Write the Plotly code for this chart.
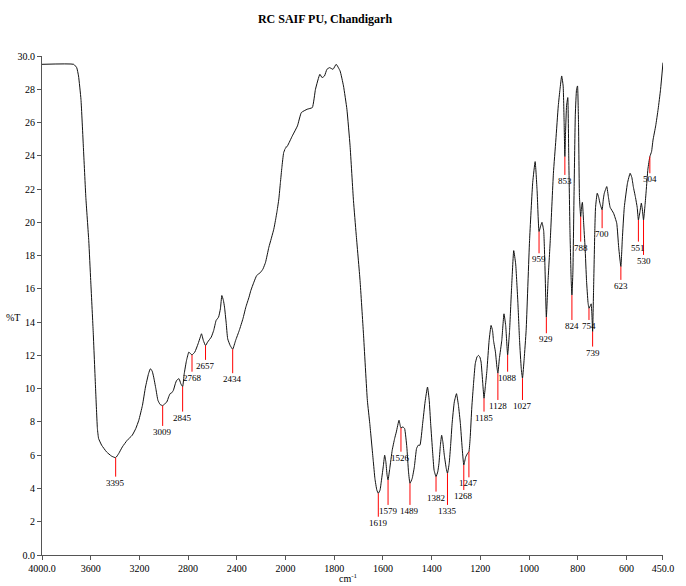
import plotly.graph_objects as go

# FTIR spectrum: wavenumber (cm-1) vs transmittance (%T)
wavenumber = [
    4000, 3740, 3715, 3700, 3680, 3660, 3640, 3616, 3600, 3580, 3560, 3545, 3535,
    3510, 3470, 3430, 3395, 3370, 3340, 3300, 3259, 3230, 3205, 3175, 3150, 3125,
    3110, 3095, 3083, 3065, 3048, 3030, 3009, 2990, 2975, 2960, 2948, 2935, 2921,
    2905, 2894, 2875, 2860, 2845, 2832, 2813, 2794, 2780, 2768, 2745, 2718, 2700,
    2690, 2675, 2657, 2640, 2610, 2590, 2570, 2550, 2535, 2523, 2510, 2501, 2488,
    2475, 2455, 2434, 2410, 2380, 2350, 2326, 2300, 2285, 2260, 2237, 2204, 2185,
    2164, 2137, 2118, 2096, 2083, 2069, 2055, 2042, 2030, 2015, 1992, 1972, 1951,
    1935, 1911, 1890, 1877, 1859, 1850, 1840, 1830, 1819, 1805, 1792, 1776, 1762,
    1748, 1735, 1721, 1710, 1694, 1680, 1664, 1654, 1640, 1633, 1625, 1619, 1612,
    1606, 1598, 1593, 1588, 1583, 1579, 1572, 1562, 1552, 1545, 1534, 1528, 1526,
    1518, 1511, 1502, 1495, 1489, 1480, 1471, 1462, 1455, 1448, 1437, 1427, 1417,
    1410, 1404, 1396, 1390, 1382, 1375, 1370, 1364, 1359, 1354, 1348, 1340, 1335,
    1328, 1322, 1316, 1307, 1298, 1290, 1282, 1275, 1268, 1260, 1253, 1247, 1242,
    1235, 1228, 1221, 1214, 1208, 1202, 1197, 1190, 1185, 1179, 1173, 1164, 1156,
    1150, 1146, 1138, 1132, 1128, 1122, 1112, 1103, 1096, 1088, 1080, 1072, 1063,
    1055, 1046, 1039, 1032, 1027, 1020, 1012, 998, 985, 975, 967, 959, 952, 947,
    940, 935, 929, 922, 913, 900, 890, 880, 873, 866, 860, 856, 853, 850, 846, 841,
    837, 832, 827, 824, 820, 815, 810, 805, 801, 797, 793, 788, 784, 781, 776, 770,
    764, 758, 754, 748, 745, 742, 739, 735, 730, 727, 720, 714, 709, 700, 695, 691,
    681, 674, 667, 653, 640, 632, 623, 617, 609, 596, 585, 578, 572, 563, 556, 551,
    545, 539, 535, 530, 524, 519, 512, 504, 497, 491, 480, 470, 460, 450,
]
transmittance = [
    29.5, 29.5, 29.3, 28.8, 27.4, 24.5, 21.5, 18.9, 16.5, 13.5, 10.0, 7.6, 7.0,
    6.6, 6.2, 5.95, 5.85, 6.1, 6.5, 6.9, 7.2, 7.6, 8.1, 9.0, 10.1, 10.9,
    11.2, 11.05, 10.7, 10.0, 9.3, 9.05, 8.98, 9.1, 9.2, 9.5, 9.7, 9.75, 9.9,
    10.3, 10.5, 10.6, 10.3, 10.12, 10.9, 11.7, 12.2, 12.1, 12.03, 12.2, 12.7, 13.1,
    13.3, 12.9, 12.59, 12.8, 13.1, 13.5, 14.1, 14.3, 14.8, 15.6, 15.3, 14.9, 14.0,
    13.0, 12.6, 12.37, 12.9, 13.5, 14.2, 14.9, 15.5, 15.9, 16.4, 16.8, 17.0, 17.2,
    17.6, 18.5, 19.0, 19.6, 20.1, 20.7, 21.4, 22.4, 23.3, 24.2, 24.6, 25.2, 25.8,
    26.6, 26.8, 26.9, 28.0, 28.9, 28.7, 28.8, 29.2, 29.3, 29.2, 29.5, 29.1, 28.2,
    26.8, 24.6, 21.3, 19.3, 16.5, 13.3, 9.3, 7.9, 5.7, 4.6, 3.9, 3.71, 3.9,
    4.5, 5.4, 6.0, 5.6, 4.8, 4.51, 5.2, 6.3, 7.0, 7.4, 8.1, 7.7, 7.64,
    7.7, 7.6, 6.5, 5.0, 4.31, 4.6, 5.3, 6.4, 6.6, 6.6, 7.9, 9.2, 10.1,
    9.3, 7.9, 6.2, 5.1, 4.71, 5.0, 5.5, 6.6, 7.2, 6.8, 6.0, 5.2, 4.91,
    5.5, 6.6, 7.9, 9.2, 9.7, 9.0, 7.9, 6.5, 5.41, 5.9, 6.1, 6.21, 7.0,
    8.9, 10.3, 11.5, 11.9, 12.0, 11.9, 11.6, 10.3, 9.42, 10.2, 11.1, 12.9, 13.8,
    13.5, 12.9, 12.2, 11.3, 10.93, 11.8, 12.9, 14.5, 13.8, 12.03, 13.5, 16.0, 18.3,
    17.5, 15.2, 12.9, 11.2, 10.63, 11.8, 13.5, 18.9, 22.4, 23.65, 21.9, 19.44, 19.8, 20.0,
    19.5, 17.5, 14.3, 16.5, 18.9, 22.95, 24.95, 27.0, 28.0, 28.8, 28.2, 26.0, 23.95, 25.5, 27.0, 27.5,
    24.0, 19.5, 16.5, 15.63, 17.0, 22.0, 26.5, 28.0, 28.2, 26.0, 21.5, 20.34, 21.0, 21.2, 20.0, 18.5,
    16.5, 15.2, 14.83, 15.0, 15.1, 14.5, 13.43, 16.0, 19.5, 20.9, 21.75, 21.5, 21.15, 20.75, 21.4, 21.75,
    22.15, 21.5, 20.9, 20.55, 19.95, 18.5, 17.34, 19.0, 20.9, 22.35, 22.95, 22.7, 22.15, 21.5, 20.9, 20.14,
    20.6, 21.15, 20.8, 20.14, 21.0, 21.9, 23.2, 23.95, 24.25, 24.95, 25.8, 26.8, 28.0, 29.6,
]

# Annotated absorption bands
peak_wn = [3395, 3009, 2845, 2768, 2657, 2434, 1619, 1579, 1526, 1489, 1382, 1335,
           1268, 1247, 1185, 1128, 1088, 1027, 959, 929, 853, 824, 788, 754, 739,
           700, 623, 551, 530, 504]
peak_T = [5.85, 8.98, 10.12, 12.03, 12.59, 12.37, 3.71, 4.51, 7.64, 4.31, 4.71, 4.91,
          5.41, 6.21, 9.42, 10.93, 12.03, 10.63, 19.44, 14.3, 23.95, 15.63, 20.34, 14.83, 13.43,
          20.75, 17.34, 20.14, 20.14, 23.95]

# Lower end of each red marker line (label hangs just below it)
marker_end = [4.71, 7.76, 8.62, 11.02, 11.73, 10.93, 2.30, 3.01, 6.21, 3.01, 3.81, 3.01,
              3.91, 4.67, 8.62, 9.32, 11.02, 9.32, 18.14, 13.33, 22.85, 14.13, 18.84, 14.13, 12.53,
              19.65, 16.54, 18.84, 18.04, 22.95]

y_ticks = list(range(0, 31, 2))
y_ticktext = ["0.0"] + [str(v) for v in y_ticks[1:-1]] + ["30.0"]
x_ticks_high = [4000, 3600, 3200, 2800, 2400]
x_ticktext_high = ["4000.0", "3600", "3200", "2800", "2400"]
x_ticks_low = [2000, 1800, 1600, 1400, 1200, 1000, 800, 600, 450]
x_ticktext_low = ["2000", "1800", "1600", "1400", "1200", "1000", "800", "600", "450.0"]

FONT = "Liberation Serif"
W, H = 686, 586
ML, MR, MT, MB = 42, 16, 56, 31
# the 4000-2000 region is drawn at half the scale of the 2000-450 region
split = (2000 * 0.5) / (2000 * 0.5 + 1550)

fig = go.Figure()
for ax in ("x", "x2"):
    fig.add_trace(go.Scatter(
        x=wavenumber, y=transmittance, xaxis=ax, yaxis="y",
        mode="lines", line=dict(color="#111111", width=1, shape="spline", smoothing=0.4),
        hoverinfo="skip", showlegend=False,
    ))

annotations = []
for ax, cond in (("x", lambda w: w > 2000), ("x2", lambda w: w <= 2000)):
    xs, ys = [], []
    for w, t, e in zip(peak_wn, peak_T, marker_end):
        if not cond(w):
            continue
        xs += [w, w, None]
        ys += [t, e, None]
        annotations.append(dict(
            x=w, y=e, xref=ax, yref="y", text=str(w), showarrow=False,
            yanchor="top", xanchor="center", yshift=1,
            font=dict(family=FONT, size=9, color="black"),
        ))
    fig.add_trace(go.Scatter(
        x=xs, y=ys, xaxis=ax, yaxis="y", mode="lines",
        line=dict(color="#ff0000", width=1), hoverinfo="skip", showlegend=False,
    ))

# axis captions placed in pixel terms, converted to paper coordinates
pw, ph = W - ML - MR, H - MT - MB


def px_to_paper(px, py):
    return (px - ML) / pw, (H - py - MB) / ph


tx, ty = px_to_paper(13, 317)
annotations.append(dict(
    x=tx, y=ty, xref="paper", yref="paper", text="%T", showarrow=False,
    xanchor="center", yanchor="middle",
    font=dict(family=FONT, size=10, color="black"),
))
cx, cy = px_to_paper(352, 586)
annotations.append(dict(
    x=cx, y=cy, xref="paper", yref="paper", text="cm<sup>-1</sup>", showarrow=False,
    xanchor="center", yanchor="bottom",
    font=dict(family=FONT, size=10, color="black"),
))

axis_common = dict(
    showline=True, linecolor="#555555", linewidth=1, ticks="outside", ticklen=4,
    tickcolor="#555555", showgrid=False, zeroline=False,
    tickfont=dict(family=FONT, size=10, color="black"),
)

fig.update_layout(
    width=W, height=H,
    margin=dict(l=ML, r=MR, t=MT, b=MB),
    paper_bgcolor="white", plot_bgcolor="white",
    title=dict(
        text="<b>RC SAIF PU, Chandigarh</b>", x=325 / W, xanchor="center",
        y=1 - 19 / H, yanchor="middle", yref="container",
        font=dict(family=FONT, size=12, color="black"),
    ),
    xaxis=dict(domain=[0, split], range=[4000, 2000], anchor="y",
               tickvals=x_ticks_high, ticktext=x_ticktext_high, **axis_common),
    xaxis2=dict(domain=[split, 1], range=[2000, 450], anchor="y",
                tickvals=x_ticks_low, ticktext=x_ticktext_low, **axis_common),
    yaxis=dict(domain=[0, 1], range=[0, 30], anchor="x",
               tickvals=y_ticks, ticktext=y_ticktext, **axis_common),
    annotations=annotations,
)

fig.write_html("out.html")
